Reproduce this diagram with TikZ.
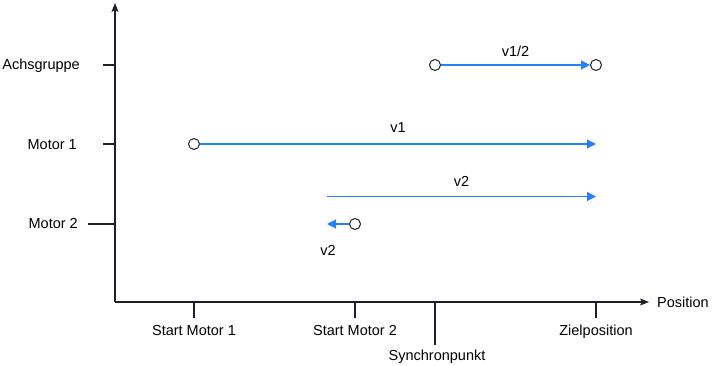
\documentclass[tikz,border=0pt]{standalone}
\usepackage{fontspec}
\setmainfont{Liberation Sans}
\usepackage{tikz}
\usetikzlibrary{arrows.meta, calc, positioning}
\definecolor{axisgray}{RGB}{30,32,40}
\definecolor{moveblue}{RGB}{36,128,255}
\tikzstyle{txt} = [font=\fontsize{14.5}{17}\selectfont, inner sep=0pt]
\tikzstyle{axis} = [line width=1.1pt, draw=axisgray]
\tikzstyle{axisarrow} = [axis, -{Stealth[length=9pt, width=7pt, inset=2pt]}]
\tikzstyle{move} = [line width=1.1pt, draw=moveblue, -{Triangle[length=9pt, width=9pt]}]
\tikzstyle{start} = [circle, draw=axisgray, line width=1pt, fill=white, minimum size=11pt, inner sep=0pt]
\begin{document}
\begin{tikzpicture}[x=1pt, y=-1pt]
		\useasboundingbox (0,0) rectangle (712,366);
		% axes
		\coordinate (Origin) at (115,302);
		\coordinate (YEnd) at (115,3);
		\coordinate (XEnd) at (649,302);
		\draw [axisarrow] (Origin) -- (YEnd);
		\draw [axisarrow] (Origin) -- (XEnd);
		\node (Position) [txt, anchor=base west] at (657,307) {Position};
		% rows
		\node (Achsgruppe) [txt, anchor=base east] at (80,70) {Achsgruppe};
		\node (Motor1) [txt, anchor=base east] at (77,150) {Motor 1};
		\node (Motor2) [txt, anchor=base east] at (78,229) {Motor 2};
		\draw [axis] (103,65) coordinate (AchsTick) -- (Origin |- AchsTick);
		\draw [axis] (103,144) coordinate (Motor1Tick) -- (Origin |- Motor1Tick);
		\draw [axis] (88,224) coordinate (Motor2Tick) -- (Origin |- Motor2Tick);
		% positions
		\coordinate (StartM1Tick) at (194,318);
		\coordinate (StartM2Tick) at (355,318);
		\coordinate (SyncTick) at (435,345);
		\coordinate (ZielTick) at (596,318);
		\draw [axis] (StartM1Tick |- Origin) -- (StartM1Tick);
		\draw [axis] (StartM2Tick |- Origin) -- (StartM2Tick);
		\draw [axis] (SyncTick |- Origin) -- (SyncTick);
		\draw [axis] (ZielTick |- Origin) -- (ZielTick);
		\node (StartMotor1) [txt, anchor=base] at (194,335) {Start Motor 1};
		\node (StartMotor2) [txt, anchor=base] at (355,335) {Start Motor 2};
		\node (Synchronpunkt) [txt, anchor=base] at (437,360) {Synchronpunkt};
		\node (Zielposition) [txt, anchor=base] at (596,335) {Zielposition};
		% movements
		\node (AchsStart) [start] at (435,65) {};
		\node (AchsEnd) [start] at (596,65) {};
		\node (Motor1Start) [start] at (194,144) {};
		\coordinate (Motor1End) at (596,144);
		\coordinate (Motor2Sync) at (327,196.5);
		\coordinate (Motor2SyncEnd) at (596,196.5);
		\node (Motor2Start) [start] at (355,224) {};
		\coordinate (Motor2Back) at (327,224);
		\draw [move] (AchsStart) -- (AchsEnd) node[txt, midway, anchor=base, yshift=8pt]{v1/2};
		\draw [move] (Motor1Start) -- (Motor1End) node[txt, midway, anchor=base, yshift=11pt]{v1};
		\draw [move] (Motor2Sync) -- (Motor2SyncEnd) node[txt, midway, anchor=base, yshift=10pt]{v2};
		\draw [move] (Motor2Start) -- (Motor2Back);
		\node (Motor2Label) [txt, anchor=base] at ($(Motor2Back)+(1,31)$) {v2};
\end{tikzpicture}
\end{document}
